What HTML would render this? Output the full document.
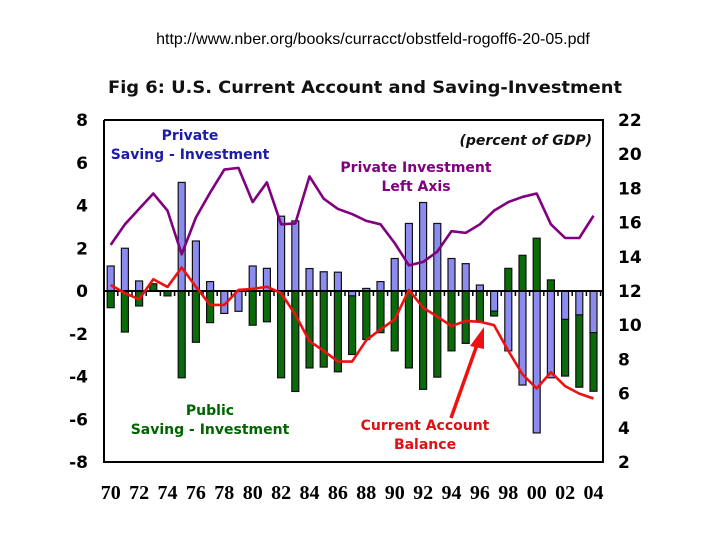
<!DOCTYPE html>
<html><head><meta charset="utf-8"><style>
html,body{margin:0;padding:0;background:#fff;width:720px;height:540px;overflow:hidden}
svg{display:block}
</style></head><body>
<svg id="c" width="720" height="540" xmlns="http://www.w3.org/2000/svg">
<text x="373" y="44" text-anchor="middle" font-family="Liberation Sans, sans-serif" font-size="16">http://www.nber.org/books/curracct/obstfeld-rogoff6-20-05.pdf</text>
<text x="365" y="93" text-anchor="middle" font-family="DejaVu Sans, sans-serif" font-weight="bold" font-size="17" textLength="514" lengthAdjust="spacingAndGlyphs" fill="#111">Fig 6: U.S. Current Account and Saving-Investment</text>
<g id="plot"></g>
<g font-family="DejaVu Sans, sans-serif" font-weight="bold" font-size="14">
<text x="190" y="140" text-anchor="middle" fill="#1c1ca8">Private</text>
<text x="190" y="159" text-anchor="middle" fill="#1c1ca8">Saving - Investment</text>
<text x="592" y="145" text-anchor="end" font-style="italic" fill="#111">(percent of GDP)</text>
<text x="416" y="172" text-anchor="middle" fill="#800080">Private Investment</text>
<text x="416" y="191" text-anchor="middle" fill="#800080">Left Axis</text>
<text x="210" y="415" text-anchor="middle" fill="#006400">Public</text>
<text x="210" y="434" text-anchor="middle" fill="#006400">Saving - Investment</text>
<text x="425" y="430" text-anchor="middle" fill="#dd1111">Current Account</text>
<text x="425" y="449" text-anchor="middle" fill="#dd1111">Balance</text>
</g>
</svg>
<script>
const years=[1970,1971,1972,1973,1974,1975,1976,1977,1978,1979,1980,1981,1982,1983,1984,1985,1986,1987,1988,1989,1990,1991,1992,1993,1994,1995,1996,1997,1998,1999,2000,2001,2002,2003,2004];
const privateSI=[1.17,2.0,0.47,0,0,5.08,2.34,0.44,-1.05,-0.95,1.17,1.06,3.5,3.28,1.05,0.9,0.88,-0.23,0.12,0.44,1.52,3.16,4.14,3.16,1.52,1.28,0.28,-0.94,-2.8,-4.4,-6.64,-4.06,-1.33,-1.12,-1.95];
const publicSI=[-0.78,-1.92,-0.7,0.34,-0.23,-4.06,-2.4,-1.48,0,0,-1.6,-1.44,-4.06,-4.7,-3.6,-3.56,-3.78,-2.74,-2.27,-1.95,-2.8,-3.6,-4.6,-4.03,-2.8,-2.45,-1.44,-0.23,1.06,1.67,2.47,0.52,-2.65,-3.38,-2.74];
const currentAccount=[0.28,-0.1,-0.39,0.55,0.19,1.1,0.2,-0.65,-0.65,0.05,0.1,0.2,-0.1,-1.1,-2.35,-2.8,-3.3,-3.3,-2.3,-1.8,-1.33,0.05,-0.78,-1.2,-1.64,-1.4,-1.44,-1.6,-2.8,-3.9,-4.56,-3.8,-4.45,-4.8,-5.03];
const privateInvestment=[14.7,15.9,16.8,17.7,16.7,14.15,16.3,17.75,19.1,19.2,17.2,18.35,15.9,15.95,18.7,17.4,16.8,16.5,16.1,15.9,14.8,13.5,13.7,14.3,15.5,15.4,15.9,16.7,17.2,17.5,17.7,15.9,15.1,15.1,16.4];
const leftTicks=[8,6,4,2,0,-2,-4,-6,-8];
const rightTicks=[22,20,18,16,14,12,10,8,6,4,2];
const xLabels=["70","72","74","76","78","80","82","84","86","88","90","92","94","96","98","00","02","04"];

const NS="http://www.w3.org/2000/svg";
const g=document.getElementById('plot');
const X0=104,X1=603,YT=120,YB=462;
const yL=v=>YT+(8-v)*(YB-YT)/16;
const yR=v=>YT+(22-v)*(YB-YT)/20;
const xY=y=>110.7+(y-1970)*14.2;
function mk(t,a){const e=document.createElementNS(NS,t);for(const k in a)e.setAttribute(k,a[k]);g.appendChild(e);return e;}
const BW=7;
function bar(x,v0,v1,fill,name){
  const y0=yL(Math.max(v0,v1)),y1=yL(Math.min(v0,v1));
  if(y1-y0<0.5)return;
  const r=mk('rect',{x:x-BW/2,y:y0,width:BW,height:y1-y0,fill:fill,stroke:'#111',"stroke-width":1.2});
  
  
}
years.forEach((yr,i)=>{
  const x=xY(yr),p=privateSI[i],q=publicSI[i];
  bar(x,0,p,'#8c8cf0','private-si-bar-'+yr);
  if((p>=0)===(q>=0)) bar(x,p,p+q,'#0b6b0b','public-si-bar-'+yr);
  else bar(x,0,q,'#0b6b0b','public-si-bar-'+yr);
});
// zero line and ticks
let z=mk('line',{x1:X0,x2:X1,y1:yL(0),y2:yL(0),stroke:'#000',"stroke-width":2});


years.forEach(yr=>{
  const t=mk('line',{x1:xY(yr)+7.1,x2:xY(yr)+7.1,y1:yL(0),y2:yL(0)+5,stroke:'#000',"stroke-width":1.5});
  
  
});
function line(vals,f,col,name){
  const p=mk('polyline',{points:vals.map((v,i)=>xY(years[i])+','+f(v)).join(' '),fill:'none',stroke:col,"stroke-width":2.6,"stroke-linejoin":"round"});
  
  
}
line(privateInvestment,yR,'#800080','private-investment-line');
line(currentAccount,yL,'#ee1111','current-account-line');
// frame
const fr=mk('path',{d:`M${X0},${YT}V${YB}H${X1}V${YT}H${X0}`,fill:'none',stroke:'#000',"stroke-width":2});


// arrow
const ar=mk('line',{x1:451,y1:418,x2:478,y2:342,stroke:'#ee1111',"stroke-width":3.5});


const ah=mk('polygon',{points:'484,327 470,346 484,349',fill:'#ee1111'});


// axes labels
leftTicks.forEach(v=>{
  const t=mk('text',{x:88,y:yL(v)+6,"text-anchor":"end","font-family":"DejaVu Sans, sans-serif","font-weight":"bold","font-size":17});
  t.textContent=v;
  
  
});
rightTicks.forEach(v=>{
  const t=mk('text',{x:618,y:yR(v)+6,"font-family":"DejaVu Sans, sans-serif","font-weight":"bold","font-size":17});
  t.textContent=v;
  
  
});
xLabels.forEach((s,i)=>{
  const t=mk('text',{x:xY(1970+2*i),y:499,"text-anchor":"middle","font-family":"Liberation Serif, serif","font-weight":"bold","font-size":20});
  t.textContent=s;
  
  
});
</script>
</body></html>
